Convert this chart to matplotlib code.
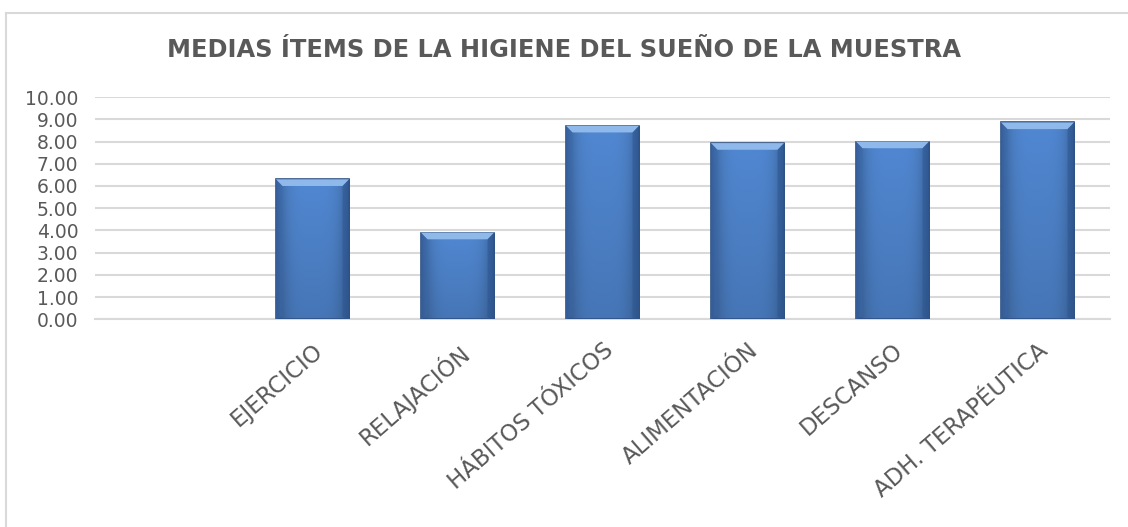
import numpy as np
import matplotlib.pyplot as plt
from matplotlib.patches import Polygon, Rectangle
from matplotlib.lines import Line2D

plt.rcParams['font.family'] = ['DejaVu Sans']

categories = ["", "EJERCICIO", "RELAJACIÓN", "HÁBITOS TÓXICOS", "ALIMENTACIÓN",
              "DESCANSO", "ADH. TERAPÉUTICA"]
values = [0.0, 6.30, 3.90, 8.71, 7.93, 8.00, 8.86]
yticks = np.arange(0, 11, 1)
title = "MEDIAS ÍTEMS DE LA HIGIENE DEL SUEÑO DE LA MUESTRA"

text_color = "#595959"
grid_color = "#D9D9D9"

fig = plt.figure(figsize=(11.28, 5.27), dpi=100)
ax = fig.add_axes([95 / 1128, 207.7 / 527, 1015 / 1128, 222.2 / 527])

x = np.arange(len(categories))
width = 0.505

# horizontal gradient: darker at the edges, lighter towards the middle
grad = np.linspace(-1, 1, 64)
shade = 1 - 0.35 * grad ** 4
base = np.array([76, 128, 198]) / 255.0
cols = np.clip(base[None, :] * shade[:, None], 0, 1)
vert = np.linspace(1.06, 0.92, 48)
img = np.clip(cols[None, :, :] * vert[:, None, None], 0, 1)

for xi, v in zip(x, values):
    if v <= 0:
        continue
    x0, x1 = xi - width / 2, xi + width / 2
    im = ax.imshow(img, extent=[x0, x1, 0, v], aspect="auto", zorder=3,
                   interpolation="bilinear")
    rect = Rectangle((x0, 0), width, v, facecolor="none", edgecolor="#2F5286",
                     linewidth=1.2, zorder=4)
    ax.add_patch(rect)
    im.set_clip_path(rect)
    # bevel
    bh = 0.30
    bw = 0.045
    top = Polygon([[x0, v], [x1, v], [x1 - bw, v - bh], [x0 + bw, v - bh]],
                  closed=True, facecolor="#8FB9EA", edgecolor="none", zorder=4)
    ax.add_patch(top)
    left = Polygon([[x0, v], [x0 + bw, v - bh], [x0 + bw, bh * 0.4], [x0, 0]],
                   closed=True, facecolor="#3C6AAE", edgecolor="none", alpha=0.5, zorder=4)
    right = Polygon([[x1, v], [x1 - bw, v - bh], [x1 - bw, bh * 0.4], [x1, 0]],
                    closed=True, facecolor="#2E5894", edgecolor="none", alpha=0.6, zorder=4)
    ax.add_patch(left)
    ax.add_patch(right)

ax.set_xlim(-0.5, len(categories) - 0.5)
ax.set_ylim(0, 10)
ax.set_yticks(yticks)
ax.set_yticklabels(["{:.2f}".format(t) for t in yticks], fontsize=13.5, color=text_color)
ax.yaxis.grid(True, color=grid_color, linewidth=1.5)
ax.set_axisbelow(True)
ax.tick_params(axis="y", length=0, pad=12)
ax.tick_params(axis="x", length=0, pad=14)
ax.set_xticks(x)
ax.set_xticklabels(categories, rotation=41, ha="right", va="top",
                   rotation_mode="anchor", fontsize=16.5, color=text_color)
for s in ["top", "right", "left"]:
    ax.spines[s].set_visible(False)
ax.spines["bottom"].set_color(grid_color)
ax.spines["bottom"].set_linewidth(1.5)

fig.text(0.5, 1 - 50 / 527, title, ha="center", va="center", fontsize=17.4,
         fontweight="bold", color=text_color)

# chart frame
fig.add_artist(Line2D([6 / 1128, 6 / 1128], [0, 1 - 13 / 527], color="#D9D9D9",
                      linewidth=1.5, transform=fig.transFigure))
fig.add_artist(Line2D([6 / 1128, 1], [1 - 13 / 527, 1 - 13 / 527], color="#D9D9D9",
                      linewidth=1.5, transform=fig.transFigure))

fig.savefig("out.png", dpi=100)
